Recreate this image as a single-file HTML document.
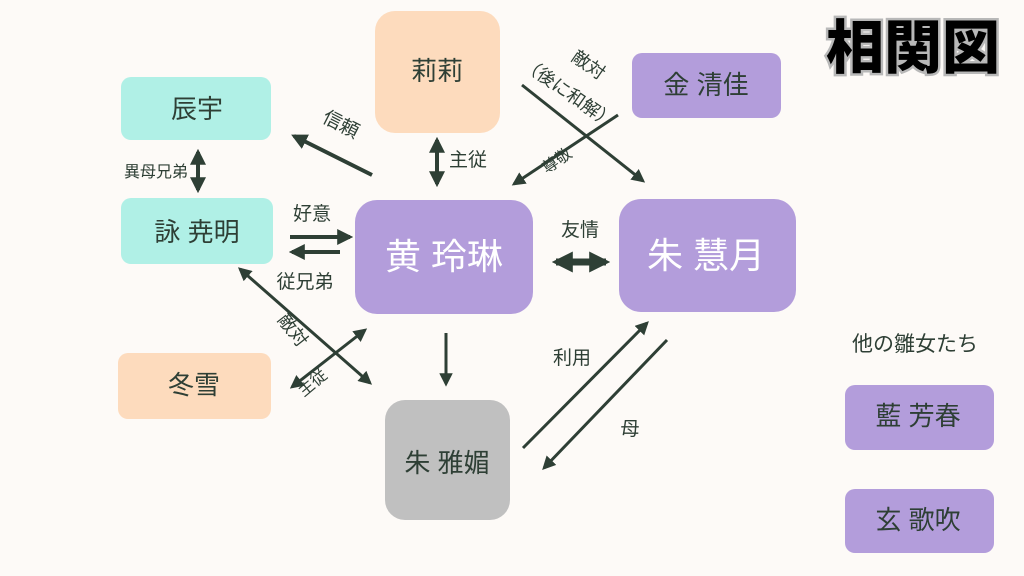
<!DOCTYPE html>
<html><head><meta charset="utf-8"><style>
html,body{margin:0;padding:0;background:#fdfaf7;}
svg{display:block;font-family:"Liberation Sans","Noto Sans CJK JP",sans-serif;}
</style></head><body>
<svg width="1024" height="576" viewBox="0 0 1024 576" xmlns="http://www.w3.org/2000/svg">
<defs>
<marker id="a" viewBox="0 0 10 10" refX="8" refY="5" markerWidth="4" markerHeight="4" orient="auto-start-reverse"><path d="M0,0 L10,5 L0,10 z" fill="#2e3f35"/></marker>
<marker id="c" viewBox="0 0 10 10" refX="8" refY="5" markerWidth="4.5" markerHeight="4.5" orient="auto-start-reverse"><path d="M0,0 L10,5 L0,10 z" fill="#2e3f35"/></marker>
<marker id="b" viewBox="0 0 10 10" refX="8" refY="5" markerWidth="3" markerHeight="3" orient="auto-start-reverse"><path d="M0,0 L10,5 L0,10 z" fill="#2e3f35"/></marker>
</defs>
<rect width="1024" height="576" fill="#fdfaf7"/>
<rect x="121" y="77" width="150" height="63" rx="10" fill="#b0f0e6"/>
<rect x="121" y="198" width="152" height="66" rx="10" fill="#b0f0e6"/>
<rect x="375" y="11" width="125" height="122" rx="20" fill="#fddbbd"/>
<rect x="632" y="53" width="149" height="65" rx="10" fill="#b39ddb"/>
<rect x="355" y="200" width="178" height="114" rx="22" fill="#b39ddb"/>
<rect x="619" y="199" width="177" height="113" rx="22" fill="#b39ddb"/>
<rect x="118" y="353" width="153" height="66" rx="10" fill="#fddbbd"/>
<rect x="385" y="400" width="125" height="120" rx="20" fill="#c0c0c0"/>
<rect x="845" y="385" width="149" height="65" rx="10" fill="#b39ddb"/>
<rect x="845" y="489" width="149" height="64" rx="10" fill="#b39ddb"/>
<g fill="#2e3f35" font-size="26" text-anchor="middle">
<text x="197" y="118">辰宇</text>
<text x="197" y="241">詠 尭明</text>
<text x="437" y="80">莉莉</text>
<text x="706" y="94">金 清佳</text>
<text x="194" y="394">冬雪</text>
<text x="447" y="472">朱 雅媚</text>
<text x="918" y="425">藍 芳春</text>
<text x="918" y="529">玄 歌吹</text>
</g>
<g fill="#ffffff" font-size="36" text-anchor="middle">
<text x="444" y="269">黄 玲琳</text>
<text x="706" y="268">朱 慧月</text>
</g>
<text x="915" y="351" font-size="21" fill="#2e3f35" text-anchor="middle">他の雛女たち</text>
<text x="913" y="68" font-size="58" fill="#000" stroke="#b8b8b8" stroke-width="5" paint-order="stroke" text-anchor="middle" style="font-family:'Noto Sans CJK JP',sans-serif;font-weight:900">相関図</text>
<g stroke="#2e3f35" stroke-width="4" fill="none">
<line x1="372" y1="175" x2="294" y2="136" marker-end="url(#a)"/>
<line x1="437" y1="140" x2="437" y2="184" marker-start="url(#a)" marker-end="url(#a)"/>
<line x1="198" y1="152" x2="198" y2="190" marker-start="url(#a)" marker-end="url(#a)"/>
<line x1="290" y1="237" x2="350" y2="237" marker-end="url(#a)"/>
<line x1="340" y1="252" x2="292" y2="252" marker-end="url(#a)"/>
<line x1="522" y1="85" x2="643" y2="181" stroke-width="3" marker-end="url(#c)"/>
<line x1="618" y1="115" x2="514" y2="184" stroke-width="3" marker-end="url(#c)"/>
<line x1="240" y1="269" x2="370" y2="383" stroke-width="3" marker-start="url(#c)" marker-end="url(#c)"/>
<line x1="365" y1="330" x2="292" y2="387" stroke-width="3" marker-start="url(#c)" marker-end="url(#c)"/>
<line x1="446" y1="333" x2="446" y2="384" stroke-width="3" marker-end="url(#c)"/>
<line x1="523" y1="448" x2="647" y2="323" stroke-width="3" marker-end="url(#c)"/>
<line x1="667" y1="340" x2="544" y2="468" stroke-width="3" marker-end="url(#c)"/>
<line x1="556" y1="262" x2="606" y2="262" stroke-width="7" marker-start="url(#b)" marker-end="url(#b)"/>
</g>
<g fill="#2e3f35" font-size="19" text-anchor="middle">
<text x="468" y="166">主従</text>
<text x="156" y="177" font-size="16">異母兄弟</text>
<text x="312" y="220">好意</text>
<text x="305" y="288">従兄弟</text>
<text x="580" y="236">友情</text>
<text x="572" y="364">利用</text>
<text x="630" y="435">母</text>
<text transform="translate(338,130) rotate(27)">信頼</text>
<text transform="translate(585,70) rotate(35)" font-size="18">敵対</text>
<text transform="translate(565,98) rotate(35)" font-size="18">（後に和解）</text>
<text transform="translate(560,165) rotate(-35)" font-size="16">尊敬</text>
<text transform="translate(288,334) rotate(52)" font-size="18">敵対</text>
<text transform="translate(316,387) rotate(-40)" font-size="16">主従</text>
</g>
</svg>
</body></html>
